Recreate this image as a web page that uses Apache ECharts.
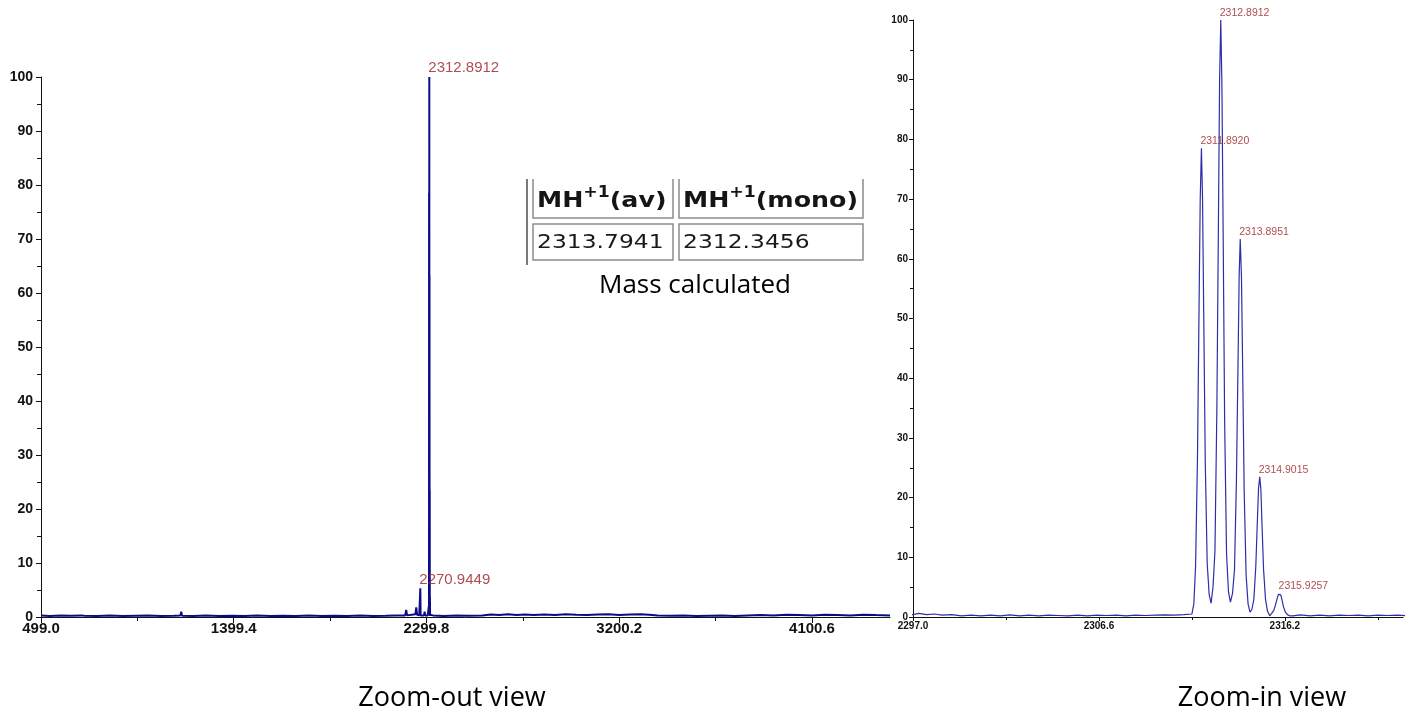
<!DOCTYPE html>
<html>
<head>
<meta charset="utf-8">
<title>MALDI spectrum – zoom-out / zoom-in</title>
<script src="https://cdn.jsdelivr.net/npm/echarts@6/dist/echarts.min.js"></script>
<style>
  html, body { margin: 0; padding: 0; background: #ffffff; }
  #chart { width: 1410px; height: 717px; }
</style>
</head>
<body>
<div id="chart"></div>
<script>
// ---- Survey scan (wide m/z range), excluding the isotope cluster window ----
const surveyMz = [
  499, 540, 590, 640, 690, 695, 700, 760, 820, 880, 940, 1000, 1060, 1120, 1150, 1154, 1158,
  1210, 1270, 1330, 1390, 1450, 1510, 1570, 1630, 1690, 1750, 1810, 1870, 1930, 1990, 2050,
  2110, 2160, 2200, 2205, 2209, 2230, 2248, 2252, 2256, 2262, 2264, 2266, 2269.5, 2270.9449,
  2272.4, 2280, 2288, 2291, 2294,
  2330, 2380, 2440, 2500, 2560, 2600, 2640, 2680, 2720, 2760, 2800, 2850, 2900, 2950, 3000,
  3050, 3100, 3150, 3200, 3250, 3300, 3340, 3380, 3440, 3500, 3560, 3620, 3680, 3740, 3800,
  3860, 3920, 3980, 4040, 4100, 4160, 4220, 4280, 4340, 4400, 4465
];
const surveyInt = [
  0.3, 0.2, 0.3, 0.25, 0.3, 0.6, 0.25, 0.2, 0.3, 0.2, 0.25, 0.3, 0.2, 0.25, 0.3, 1.0, 0.25,
  0.2, 0.3, 0.2, 0.25, 0.2, 0.3, 0.2, 0.25, 0.2, 0.3, 0.2, 0.25, 0.2, 0.3, 0.2,
  0.25, 0.3, 0.3, 1.3, 0.3, 0.4, 0.5, 1.8, 0.4, 0.3, 0.7, 0.3, 0.3, 5.3,
  0.3, 0.4, 0.3, 1.0, 0.3,
  0.3, 0.2, 0.3, 0.25, 0.3, 0.45, 0.35, 0.5, 0.35, 0.45, 0.35, 0.45, 0.35, 0.5, 0.4,
  0.35, 0.45, 0.5, 0.35, 0.45, 0.5, 0.4, 0.3, 0.25, 0.3, 0.2, 0.25, 0.3, 0.2, 0.3,
  0.35, 0.3, 0.4, 0.35, 0.3, 0.4, 0.35, 0.3, 0.4, 0.35, 0.3
];

// ---- High-resolution profile around the [M+H]+ isotope cluster ----
const clusterMz = [
  2296.6, 2297.0, 2297.3, 2297.7, 2298.1, 2298.5, 2299.0, 2299.5, 2300.0, 2300.5, 2301.0,
  2301.5, 2302.0, 2302.5, 2303.0, 2303.5, 2304.0, 2304.5, 2305.0, 2305.5, 2306.0, 2306.5,
  2307.0, 2307.5, 2308.0, 2308.5, 2309.0, 2309.5, 2310.0, 2310.5, 2311.0, 2311.4,
  2311.50, 2311.59, 2311.69, 2311.77, 2311.83, 2311.892, 2311.95, 2312.01, 2312.09, 2312.19, 2312.29, 2312.39,
  2312.49, 2312.59, 2312.69, 2312.77, 2312.83, 2312.8912, 2312.95, 2313.01, 2313.09, 2313.19, 2313.29, 2313.39,
  2313.50, 2313.60, 2313.70, 2313.78, 2313.84, 2313.8951, 2313.96, 2314.02, 2314.10, 2314.20, 2314.30, 2314.40,
  2314.50, 2314.60, 2314.70, 2314.78, 2314.84, 2314.9015, 2314.96, 2315.02, 2315.10, 2315.20, 2315.30, 2315.42,
  2315.52, 2315.63, 2315.73, 2315.81, 2315.87, 2315.9257, 2315.99, 2316.05, 2316.13, 2316.23, 2316.33, 2316.45,
  2316.6, 2317.0, 2317.5, 2318.0, 2318.5, 2319.0, 2319.5, 2320.0, 2320.5, 2321.0, 2321.5, 2322.0, 2322.5
];
const clusterInt = [
  0.3, 0.4, 0.6, 0.4, 0.5, 0.3, 0.4, 0.2, 0.3, 0.2, 0.3,
  0.2, 0.35, 0.2, 0.3, 0.2, 0.3, 0.25, 0.2, 0.3, 0.2, 0.3,
  0.25, 0.3, 0.2, 0.3, 0.25, 0.3, 0.35, 0.3, 0.4, 0.5,
  2.2, 8.5, 27, 52, 70, 78.5, 70, 51, 26, 9, 3.8, 2.3,
  5.0, 11, 35, 66, 90, 100, 89, 66, 33, 10.5, 4.2, 2.5,
  4.0, 8, 23, 42, 57, 63.3, 57, 42, 21, 7, 2.2, 0.8,
  1.3, 3.0, 8.5, 16, 21.5, 23.5, 21.5, 15.5, 8, 3, 1.0, 0.2,
  0.6, 1.1, 2.2, 3.2, 3.8, 4.0, 3.7, 2.9, 1.7, 0.8, 0.4, 0.2,
  0.2, 0.35, 0.2, 0.3, 0.2, 0.3, 0.25, 0.3, 0.2, 0.3, 0.25, 0.3, 0.2
];

// ---- Annotated peaks (m/z, relative intensity) ----
const labelsOverview = [[2312.8912, 100], [2270.9449, 5.3]];
const labelsZoom = [[2311.8920, 78.5], [2312.8912, 100], [2313.8951, 63.3], [2314.9015, 23.5], [2315.9257, 4.0]];

// ---- Axis ticks ----
const overviewTicks = [499.0, 1399.4, 2299.8, 3200.2, 4100.6];
const overviewMinorTicks = [949.2, 1849.6, 2750.0, 3650.4];
const zoomTicks = [2297.0, 2306.6, 2316.2];
const zoomMinorTicks = [2301.8, 2311.4, 2321.0];

// ---- Calculated mass table ----
const massHeaders = ['(av)', '(mono)'];
const massValues = ['2313.7941', '2312.3456'];

// Merge both scans into one m/z-sorted trace
const spectrum = surveyMz.map((m, i) => [m, surveyInt[i]])
  .concat(clusterMz.map((m, i) => [m, clusterInt[i]]))
  .sort((a, b) => a[0] - b[0]);

const AX = '#111111';
const LBL = '#9a1f24';
const FONT = '"Liberation Sans", Arial, sans-serif';

function xAxes(grid, min, max, ticks, minor, fs, majLen, minLen) {
  return [
    {
      gridIndex: grid, type: 'value', min: min, max: max, position: 'bottom',
      axisLine: { show: true, onZero: false, lineStyle: { color: AX, width: 1 } },
      axisTick: { show: true, customValues: ticks, length: majLen, lineStyle: { color: AX } },
      axisLabel: {
        customValues: ticks, formatter: v => v.toFixed(1), color: AX,
        fontFamily: FONT, fontWeight: 'bold', fontSize: fs, margin: 4
      },
      splitLine: { show: false }
    },
    {
      gridIndex: grid, type: 'value', min: min, max: max, position: 'bottom',
      axisLine: { show: false },
      axisTick: { show: true, customValues: minor, length: minLen, lineStyle: { color: AX } },
      axisLabel: { show: false },
      splitLine: { show: false }
    }
  ];
}

function yAxis(grid, fs, majLen, minLen, margin) {
  return {
    gridIndex: grid, type: 'value', min: 0, max: 100, interval: 10,
    axisLine: { show: true, lineStyle: { color: AX, width: 1 } },
    axisTick: { show: true, length: majLen, lineStyle: { color: AX } },
    minorTick: { show: true, splitNumber: 2, length: minLen, lineStyle: { color: AX } },
    axisLabel: { color: AX, fontFamily: FONT, fontWeight: 'bold', fontSize: fs, margin: margin },
    splitLine: { show: false }
  };
}

function peakLabels(xIdx, yIdx, data, fs) {
  return {
    type: 'scatter', xAxisIndex: xIdx, yAxisIndex: yIdx, data: data,
    symbolSize: 1, itemStyle: { color: 'rgba(0,0,0,0)' }, silent: true,
    label: {
      show: true, position: 'top', align: 'left', distance: 1, offset: [-1, 0],
      formatter: p => p.value[0].toFixed(4),
      color: LBL, fontFamily: FONT, fontSize: fs
    },
    z: 5
  };
}

const tableGraphics = [
  { type: 'line', shape: { x1: 527, y1: 179, x2: 527, y2: 265 }, style: { stroke: '#7a7a7a', lineWidth: 2 } },
  { type: 'polyline', shape: { points: [[533, 179], [533, 218], [673, 218], [673, 179]] }, style: { stroke: '#8c8c8c', lineWidth: 1.5, fill: null } },
  { type: 'polyline', shape: { points: [[679, 179], [679, 218], [863, 218], [863, 179]] }, style: { stroke: '#8c8c8c', lineWidth: 1.5, fill: null } },
  { type: 'rect', shape: { x: 533, y: 224, width: 140, height: 36 }, style: { stroke: '#8c8c8c', lineWidth: 1.5, fill: null } },
  { type: 'rect', shape: { x: 679, y: 224, width: 184, height: 36 }, style: { stroke: '#8c8c8c', lineWidth: 1.5, fill: null } }
];
const cellX = [537, 683];
const tableFont = '"DejaVu Sans", Verdana, sans-serif';
massHeaders.forEach((h, i) => {
  tableGraphics.push({
    type: 'text', x: cellX[i], y: 199, scaleX: 1.15,
    style: {
      text: '{b|MH}{s|+1}{b|' + h + '}', verticalAlign: 'middle', align: 'left',
      rich: {
        b: { fontFamily: tableFont, fontWeight: 'bold', fontSize: 22, fill: '#151515', lineHeight: 27, verticalAlign: 'bottom' },
        s: { fontFamily: tableFont, fontWeight: 'bold', fontSize: 15, fill: '#151515', lineHeight: 15, verticalAlign: 'top' }
      }
    }
  });
  tableGraphics.push({
    type: 'text', x: cellX[i], y: 243, scaleX: 1.2,
    style: {
      text: massValues[i], verticalAlign: 'middle', align: 'left',
      fontFamily: tableFont, fontSize: 19.5, fill: '#1a1a1a'
    }
  });
});

const captionFont = '"Open Sans", "Noto Sans", sans-serif';
const captions = [
  { type: 'text', x: 695, y: 286, style: { text: 'Mass calculated', align: 'center', verticalAlign: 'middle', fontFamily: captionFont, fontSize: 26, fill: '#000' } },
  { type: 'text', x: 452, y: 698, style: { text: 'Zoom-out view', align: 'center', verticalAlign: 'middle', fontFamily: captionFont, fontSize: 27, fill: '#000' } },
  { type: 'text', x: 1262, y: 698, style: { text: 'Zoom-in view', align: 'center', verticalAlign: 'middle', fontFamily: captionFont, fontSize: 27, fill: '#000' } }
];

const chart = echarts.init(document.getElementById('chart'), null, { renderer: 'canvas' });
chart.setOption({
  animation: false,
  backgroundColor: '#ffffff',
  grid: [
    { left: 41, top: 77, width: 849, height: 540 },
    { left: 913, top: 20, width: 490, height: 597 }
  ],
  xAxis: [].concat(
    xAxes(0, 499, 4465, overviewTicks, overviewMinorTicks, 15, 6, 4),
    xAxes(1, 2297, 2322.3, zoomTicks, zoomMinorTicks, 10, 4, 3)
  ),
  yAxis: [yAxis(0, 14, 5, 4, 8), yAxis(1, 10, 4, 3, 5)],
  series: [
    {
      type: 'line', xAxisIndex: 0, yAxisIndex: 0, data: spectrum,
      showSymbol: false, clip: true, silent: true,
      lineStyle: { color: '#0c0c88', width: 2 }
    },
    {
      type: 'line', xAxisIndex: 2, yAxisIndex: 1, data: spectrum,
      showSymbol: false, clip: true, silent: true,
      lineStyle: { color: '#2e2ea8', width: 1.2 }
    },
    peakLabels(0, 0, labelsOverview, 15),
    peakLabels(2, 1, labelsZoom, 10.5)
  ],
  graphic: tableGraphics.concat(captions)
});
</script>
</body>
</html>
